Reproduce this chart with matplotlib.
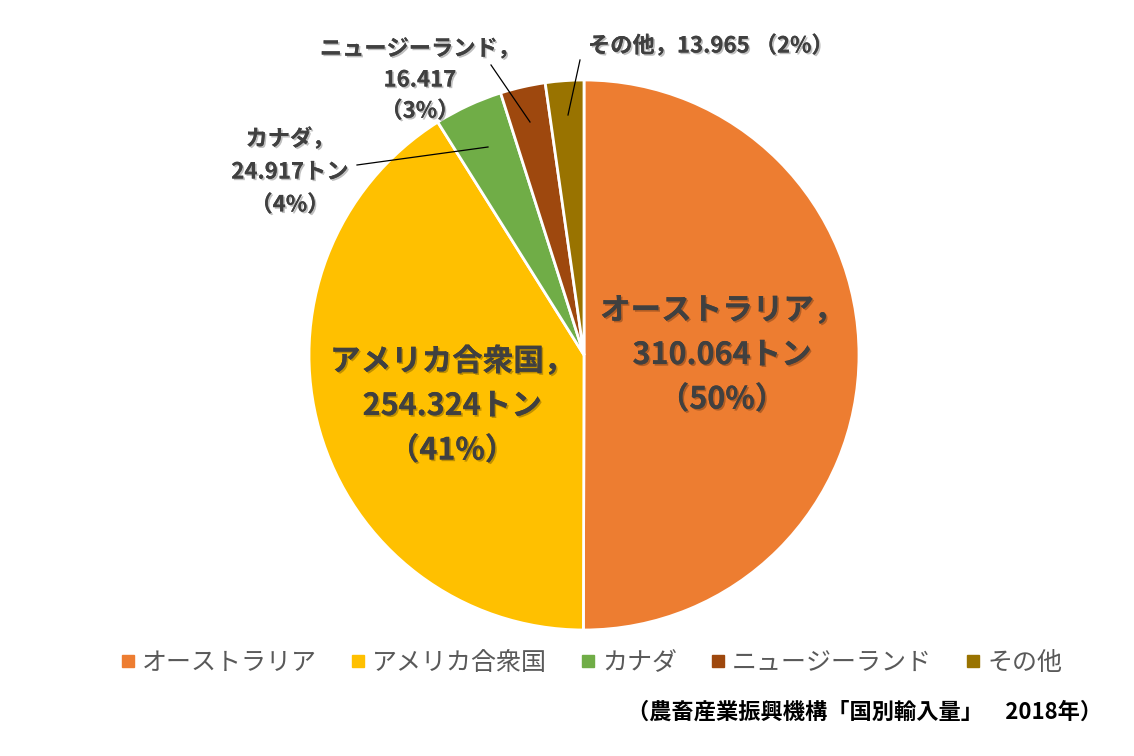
import matplotlib
matplotlib.use("Agg")
import matplotlib.pyplot as plt
import matplotlib.patheffects as pe
from matplotlib.lines import Line2D

plt.rcParams['font.family'] = ['Noto Sans CJK JP', 'DejaVu Sans']

# ---------- データ ----------
names = ["オーストラリア", "アメリカ合衆国", "カナダ", "ニュージーランド", "その他"]
values = [310.064, 254.324, 24.917, 16.417, 13.965]
colors = ["#ED7D31", "#FFC000", "#70AD47", "#9E480E", "#997300"]
source = "（農畜産業振興機構「国別輸入量」　2018年）"

W, H = 1134, 756
TXT = "#404040"
shadow = [pe.withSimplePatchShadow(offset=(1.2, -1.2), shadow_rgbFace="#000000", alpha=0.25), pe.Normal()]

fig = plt.figure(figsize=(W / 100, H / 100), dpi=100)
ax = fig.add_axes([0, 0, 1, 1])

CX, CY, R = 584, H - 355, 275
ax.pie(values, colors=colors, startangle=90, counterclock=False,
       center=(CX, CY), radius=R, frame=True,
       wedgeprops=dict(edgecolor="white", linewidth=2))
ax.set_xlim(0, W)
ax.set_ylim(0, H)
ax.set_aspect('equal')
ax.axis('off')

total = sum(values)
pct = [f"（{round(v / total * 100)}%）" for v in values]

def y(v):
    return H - v

# 大きいラベル(スライス内)
ax.text(722, y(355), f"{names[0]}，\n{values[0]:.3f}トン\n{pct[0]}", ha="center", va="center",
        fontsize=22, fontweight="bold", color=TXT, linespacing=1.5, path_effects=shadow)
ax.text(452, y(406), f"{names[1]}，\n{values[1]:.3f}トン\n{pct[1]}", ha="center", va="center",
        fontsize=22, fontweight="bold", color=TXT, linespacing=1.5, path_effects=shadow)

# 小さいラベル(引き出し線)
ax.text(290, y(172), f"{names[2]}，\n{values[2]:.3f}トン\n{pct[2]}", ha="center", va="center",
        fontsize=16, fontweight="bold", color=TXT, linespacing=1.55, path_effects=shadow)
ax.plot([357, 488], [y(165), y(147)], color="black", lw=0.9)

ax.text(420, y(80), f"{names[3]}，\n{values[3]:.3f}\n{pct[3]}", ha="center", va="center",
        fontsize=16, fontweight="bold", color=TXT, linespacing=1.45, path_effects=shadow)
ax.plot([491, 530], [y(65), y(122)], color="black", lw=0.9)

ax.text(588, y(46), f"{names[4]}，{values[4]:.3f} {pct[4]}", ha="left", va="center",
        fontsize=16, fontweight="bold", color=TXT, path_effects=shadow)
ax.plot([580, 568], [y(60), y(115)], color="black", lw=0.9)

# 凡例
handles = [Line2D([], [], marker="s", ls="", color=c, markersize=9) for c in colors]
leg = ax.legend(handles, names, loc="center", bbox_to_anchor=(592 / W, 1 - 663 / H), ncol=5,
                frameon=False, handlelength=0.5, handletextpad=0.3, columnspacing=1.4,
                prop=dict(size=18))
for t in leg.get_texts():
    t.set_color("#595959")

ax.text(1102, y(712), source, ha="right", va="center", fontsize=16, fontweight="bold", color="black")

fig.savefig("out.png", dpi=100, facecolor="white")
